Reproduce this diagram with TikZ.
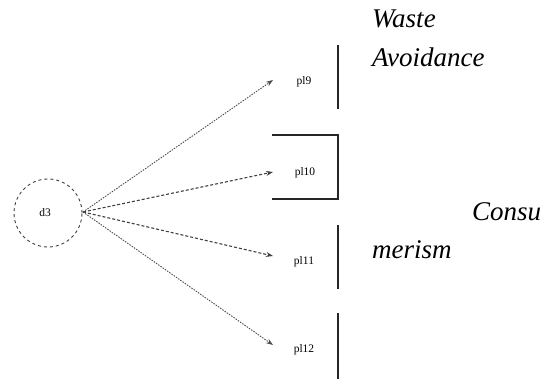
\documentclass[tikz,border=0pt]{standalone}
\usepackage{fontspec}
\setmainfont{Liberation Serif}
\usetikzlibrary{arrows.meta}
\begin{document}
\begin{tikzpicture}[x=1pt,y=-1pt,
  small/.style={font=\fontsize{11.5}{12}\selectfont, inner sep=0pt},
  big/.style={font=\fontsize{27}{30}\selectfont\itshape, inner sep=0pt, anchor=base west},
  bar/.style={line width=1.1pt, black!85},
  dotarrow/.style={dash pattern=on 1.5pt off 1.2pt, line width=0.9pt, black!70, -{Stealth[length=7pt,width=5pt]}},
  dasharrow/.style={dash pattern=on 3pt off 2pt, line width=1.1pt, black!75, -{Stealth[length=7pt,width=5pt]}}
]
\useasboundingbox (0,0) rectangle (545,379);
% latent variable
\node[draw, circle, dashed, black!75, line width=0.9pt, minimum size=68pt, inner sep=0pt] (d3) at (48,213) {};
\node[small] (d3lab) at (45,213) {d3};
\coordinate (o) at (83,212);
% indicator labels
\node[small] (pl9) at (304,82) {pl9};
\node[small] (pl10) at (305,173) {pl10};
\node[small] (pl11) at (304,262) {pl11};
\node[small] (pl12) at (304,350) {pl12};
\coordinate (t9) at (273,80);
\coordinate (t10) at (273,172);
\coordinate (t11) at (273,256);
\coordinate (t12) at (273,345);
\draw[dotarrow] (o) -- (t9);
\draw[dasharrow] (o) -- (t10);
\draw[dasharrow] (o) -- (t11);
\draw[dotarrow] (o) -- (t12);
% bars
\coordinate (b9a) at (338,45); \coordinate (b9b) at (338,109);
\draw[bar] (b9a) -- (b9b);
\coordinate (b10a) at (272,135); \coordinate (b10b) at (338,135);
\coordinate (b10c) at (338,199); \coordinate (b10d) at (272,199);
\draw[bar] (b10a) -- (b10b) -- (b10c) -- (b10d);
\coordinate (b11a) at (338,225); \coordinate (b11b) at (338,289);
\draw[bar] (b11a) -- (b11b);
\coordinate (b12a) at (338,313); \coordinate (b12b) at (338,379);
\draw[bar] (b12a) -- (b12b);
% texts
\node[big] (w1) at (372,28) {Waste};
\node[big] (w2) at (372,67) {Avoidance};
\node[big] (c1) at (472,220) {Consu};
\node[big] (c2) at (372,258) {merism};
\end{tikzpicture}
\end{document}
